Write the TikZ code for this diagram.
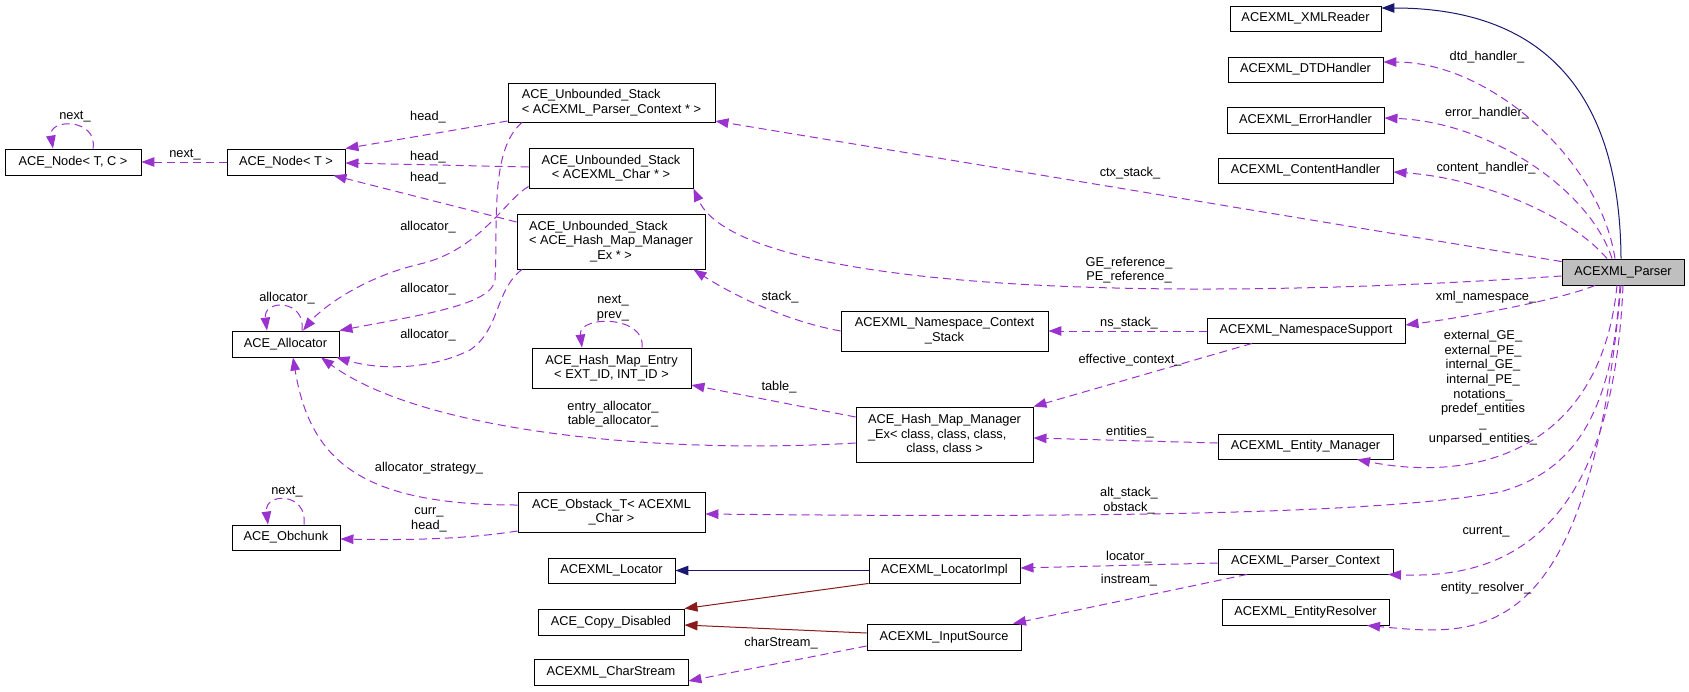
\documentclass[tikz,border=0pt]{standalone}
\usepackage{fontspec}
\setmainfont{Liberation Sans}
\usetikzlibrary{arrows.meta}
\definecolor{memc}{HTML}{9A32CD}
\definecolor{inhc}{HTML}{191970}
\definecolor{prvc}{HTML}{8B1A1A}
\definecolor{pfill}{HTML}{BFBFBF}
\begin{document}
\begin{tikzpicture}[x=1pt,y=-1pt,
  font=\fontsize{12.8}{14.5}\selectfont,
  box/.style={draw=black, line width=0.9pt, inner sep=0pt, align=center},
  lbl/.style={inner sep=0pt, align=center},
  tip/.style={-{Triangle[length=13pt,width=9.5pt]}},
  memb/.style={draw=memc, line width=1pt, dash pattern=on 8pt off 5pt, tip},
  inhe/.style={draw=inhc, line width=1pt, tip},
  priv/.style={draw=prvc, line width=1pt, tip}]
\useasboundingbox[fill=white] (0,0) rectangle (1689,691);

% nodes
\node[box, minimum width=151pt, minimum height=25pt] (xmlr) at (1305.5,18.5) {ACEXML\_XMLReader};
\node[box, minimum width=155pt, minimum height=25pt] (dtd) at (1305.5,69.5) {ACEXML\_DTDHandler};
\node[box, minimum width=157pt, minimum height=26pt] (err) at (1305.5,120) {ACEXML\_ErrorHandler};
\node[box, minimum width=175pt, minimum height=25pt] (cnt) at (1305.5,170.5) {ACEXML\_ContentHandler};
\node[box, fill=pfill, minimum width=122pt, minimum height=26pt] (parser) at (1623,272) {ACEXML\_Parser};
\node[box, minimum width=198pt, minimum height=25pt] (nss) at (1306,330.5) {ACEXML\_NamespaceSupport};
\node[box, minimum width=175pt, minimum height=25pt] (emgr) at (1305.5,446.5) {ACEXML\_Entity\_Manager};
\node[box, minimum width=175pt, minimum height=25pt] (pctx) at (1305.5,561.5) {ACEXML\_Parser\_Context};
\node[box, minimum width=167pt, minimum height=26pt] (eres) at (1305.5,612) {ACEXML\_EntityResolver};
\node[box, minimum width=207pt, minimum height=40pt] (ncs) at (944.5,331) {ACEXML\_Namespace\_Context\\\_Stack};
\node[box, minimum width=177pt, minimum height=55pt] (hmm) at (944.5,434.5) {ACE\_Hash\_Map\_Manager\\\rlap{\_Ex< class, class, class,}\hphantom{ACE\_Hash\_Map\_Manager}\\class, class >};
\node[box, minimum width=151pt, minimum height=25pt] (limpl) at (944.5,570.5) {ACEXML\_LocatorImpl};
\node[box, minimum width=154pt, minimum height=26pt] (isrc) at (944,637) {ACEXML\_InputSource};
\node[box, minimum width=207pt, minimum height=39pt] (uspc) at (611.5,102.5) {\rlap{ACE\_Unbounded\_Stack}\hphantom{< ACEXML\_Parser\_Context * >}\\< ACEXML\_Parser\_Context * >};
\node[box, minimum width=164pt, minimum height=40pt] (usch) at (611,168) {ACE\_Unbounded\_Stack\\< ACEXML\_Char * >};
\node[box, minimum width=188pt, minimum height=55pt] (ushm) at (611,241.5) {\rlap{ACE\_Unbounded\_Stack}\hphantom{< ACE\_Hash\_Map\_Manager}\\< ACE\_Hash\_Map\_Manager\\\_Ex * >};
\node[box, minimum width=159pt, minimum height=40pt] (hme) at (611.5,368) {ACE\_Hash\_Map\_Entry\\< EXT\_ID, INT\_ID >};
\node[box, minimum width=187pt, minimum height=40pt] (obst) at (611.5,512) {ACE\_Obstack\_T< ACEXML\\\_Char >};
\node[box, minimum width=127pt, minimum height=25pt] (loc) at (611.5,570.5) {ACEXML\_Locator};
\node[box, minimum width=146pt, minimum height=26pt] (copy) at (611,622) {ACE\_Copy\_Disabled};
\node[box, minimum width=154pt, minimum height=26pt] (cstr) at (611,672) {ACEXML\_CharStream};
\node[box, minimum width=136pt, minimum height=26pt] (ntc) at (73,162) {ACE\_Node< T, C >};
\node[box, minimum width=118pt, minimum height=26pt] (nt) at (286,162) {ACE\_Node< T >};
\node[box, minimum width=107pt, minimum height=26pt] (alloc) at (285.5,344) {ACE\_Allocator};
\node[box, minimum width=108pt, minimum height=25pt] (obch) at (286,537.5) {ACE\_Obchunk};

% inheritance
\draw[inhe] ([xshift=-2pt]parser.north) .. controls (1620,100) and (1550,8) .. ([yshift=10.5pt]xmlr.east);
\draw[inhe] (limpl.west) -- (loc.east);
\draw[priv] (limpl.south west) -- (copy.north east);
\draw[priv] ([yshift=4pt]isrc.west) -- ([yshift=-3pt]copy.east);

% members from parser
\draw[memb] ([xshift=-8pt]parser.north) .. controls (1600,160) and (1490,62) .. ([yshift=7.5pt]dtd.east);
\draw[memb] ([xshift=-11pt]parser.north) .. controls (1590,190) and (1490,122) .. ([yshift=2pt]err.east);
\draw[memb] ([xshift=-16pt]parser.north) .. controls (1570,215) and (1480,178) .. ([yshift=-1.5pt]cnt.east);
\draw[memb] ([yshift=-3pt]parser.north west) -- ([yshift=-18.5pt]uspc.east);
\draw[memb] ([yshift=-4pt]parser.west) .. controls (1100,307) and (735,283) .. (usch.south east);
\draw[memb] ([xshift=-28pt]parser.south) .. controls (1560,300) and (1460,318) .. ([yshift=5.5pt]nss.east);
\draw[memb] ([xshift=-6pt]parser.south) .. controls (1600,455) and (1470,482) .. ([xshift=51.5pt]emgr.south);
\draw[memb] ([xshift=-3pt]parser.south) .. controls (1612,420) and (1570,472) .. (1500,492) .. controls (1380,514) and (1100,518) .. ([yshift=-2pt]obst.east);
\draw[memb] (parser.south) .. controls (1612,550) and (1490,578) .. ([xshift=82.5pt]pctx.south);
\draw[memb] ([xshift=-2pt]parser.south) .. controls (1588,650) and (1480,636) .. ([xshift=61.5pt]eres.south);

% other members
\draw[memb] ([yshift=-0.5pt]nss.west) -- (ncs.east);
\draw[memb] ([xshift=-54pt]nss.south) -- (hmm.north east);
\draw[memb] ([yshift=3.5pt]emgr.west) -- ([yshift=-3.5pt]hmm.east);
\draw[memb] ([yshift=-1.5pt]pctx.west) -- ([yshift=2.5pt]limpl.east);
\draw[memb] ([xshift=-58.5pt]pctx.south) -- ([xshift=69pt]isrc.north);
\draw[memb] ([yshift=-9pt]isrc.west) -- ([yshift=-9pt]cstr.east);
\draw[memb] (ncs.west) .. controls (780,320) and (725,290) .. ([xshift=-12pt]ushm.south east);
\draw[memb] ([yshift=17.5pt]hmm.west) -- ([yshift=-17pt]hme.east);
\draw[memb] ([yshift=-8.5pt]hmm.west) .. controls (650,455) and (420,430) .. ([xshift=35.5pt]alloc.south);
\draw[memb] ([xshift=-89pt]ushm.south) .. controls (495,290) and (500,330) .. (470,350) .. controls (430,370) and (380,370) .. ([xshift=-3pt]alloc.south east);
\draw[memb] ([xshift=-89.5pt]uspc.south) .. controls (490,150) and (498,220) .. (495,280) .. controls (492,305) and (420,315) .. (alloc.north east);
\draw[memb] ([yshift=2pt]usch.south west) .. controls (505,200) and (480,250) .. (420,264) .. controls (360,278) and (320,310) .. ([xshift=17.5pt]alloc.north);
\draw[memb] ([yshift=-18.5pt]uspc.west) -- (nt.north east);
\draw[memb] ([yshift=1pt]usch.west) -- ([yshift=-1pt]nt.east);
\draw[memb] ([yshift=19.5pt]ushm.west) -- ([xshift=-12pt]nt.south east);
\draw[memb] (nt.west) -- (ntc.east);
\draw[memb] ([xshift=20pt]ntc.north) .. controls (98,118) and (48,118) .. ([xshift=-20pt]ntc.north);
\draw[memb] ([xshift=16.5pt]alloc.north) .. controls (306,299) and (263,299) .. ([xshift=-18.5pt]alloc.north);
\draw[memb] ([xshift=18pt]obch.north) .. controls (308,492) and (264,492) .. ([xshift=-18pt]obch.north);
\draw[memb] ([xshift=30.5pt]hme.north) .. controls (646,315) and (578,315) .. ([xshift=-29.5pt]hme.north);
\draw[memb] ([yshift=7pt]obst.west) .. controls (360,505) and (310,460) .. ([xshift=7.5pt]alloc.south);
\draw[memb] ([yshift=-19pt]obst.west) .. controls (460,540) and (400,540) .. ([yshift=-1.5pt]obch.east);

% labels
\node[lbl] (l1) at (75,117) {next\_};
\node[lbl] (l2) at (185,155) {next\_};
\node[lbl] (l3) at (428,117) {head\_};
\node[lbl] (l4) at (428,157) {head\_};
\node[lbl] (l5) at (428,178) {head\_};
\node[lbl] (l6) at (428,227) {allocator\_};
\node[lbl] (l7) at (428,289) {allocator\_};
\node[lbl] (l8) at (428,335) {allocator\_};
\node[lbl] (l9) at (287,298) {allocator\_};
\node[lbl] (l10) at (613,308) {next\_\\prev\_};
\node[lbl] (l11) at (780,297) {stack\_};
\node[lbl] (l12) at (779,387) {table\_};
\node[lbl] (l13) at (613,414) {entry\_allocator\_\\table\_allocator\_};
\node[lbl] (l14) at (429,468) {allocator\_strategy\_};
\node[lbl] (l15) at (287,492) {next\_};
\node[lbl] (l16) at (429,520) {curr\_\\head\_};
\node[lbl] (l17) at (781,643) {charStream\_};
\node[lbl] (l18) at (1130,173) {ctx\_stack\_};
\node[lbl] (l19) at (1129,270) {GE\_reference\_\\PE\_reference\_};
\node[lbl] (l20) at (1129,323) {ns\_stack\_};
\node[lbl] (l21) at (1130,360) {effective\_context\_};
\node[lbl] (l22) at (1130,432) {entities\_};
\node[lbl] (l23) at (1129,500.5) {alt\_stack\_\\obstack\_};
\node[lbl] (l24) at (1129,557) {locator\_};
\node[lbl] (l25) at (1129,580) {instream\_};
\node[lbl] (l26) at (1487,57) {dtd\_handler\_};
\node[lbl] (l27) at (1487,113) {error\_handler\_};
\node[lbl] (l28) at (1486,168) {content\_handler\_};
\node[lbl] (l29) at (1486,297) {xml\_namespace\_};
\node[lbl, font=\fontsize{12.8}{14.7}\selectfont] (l30) at (1483,387.5) {external\_GE\_\\external\_PE\_\\internal\_GE\_\\internal\_PE\_\\notations\_\\predef\_entities\\\_\\unparsed\_entities\_};
\node[lbl] (l31) at (1486,532) {current\_};
\node[lbl] (l32) at (1486,588) {entity\_resolver\_};
\end{tikzpicture}
\end{document}
